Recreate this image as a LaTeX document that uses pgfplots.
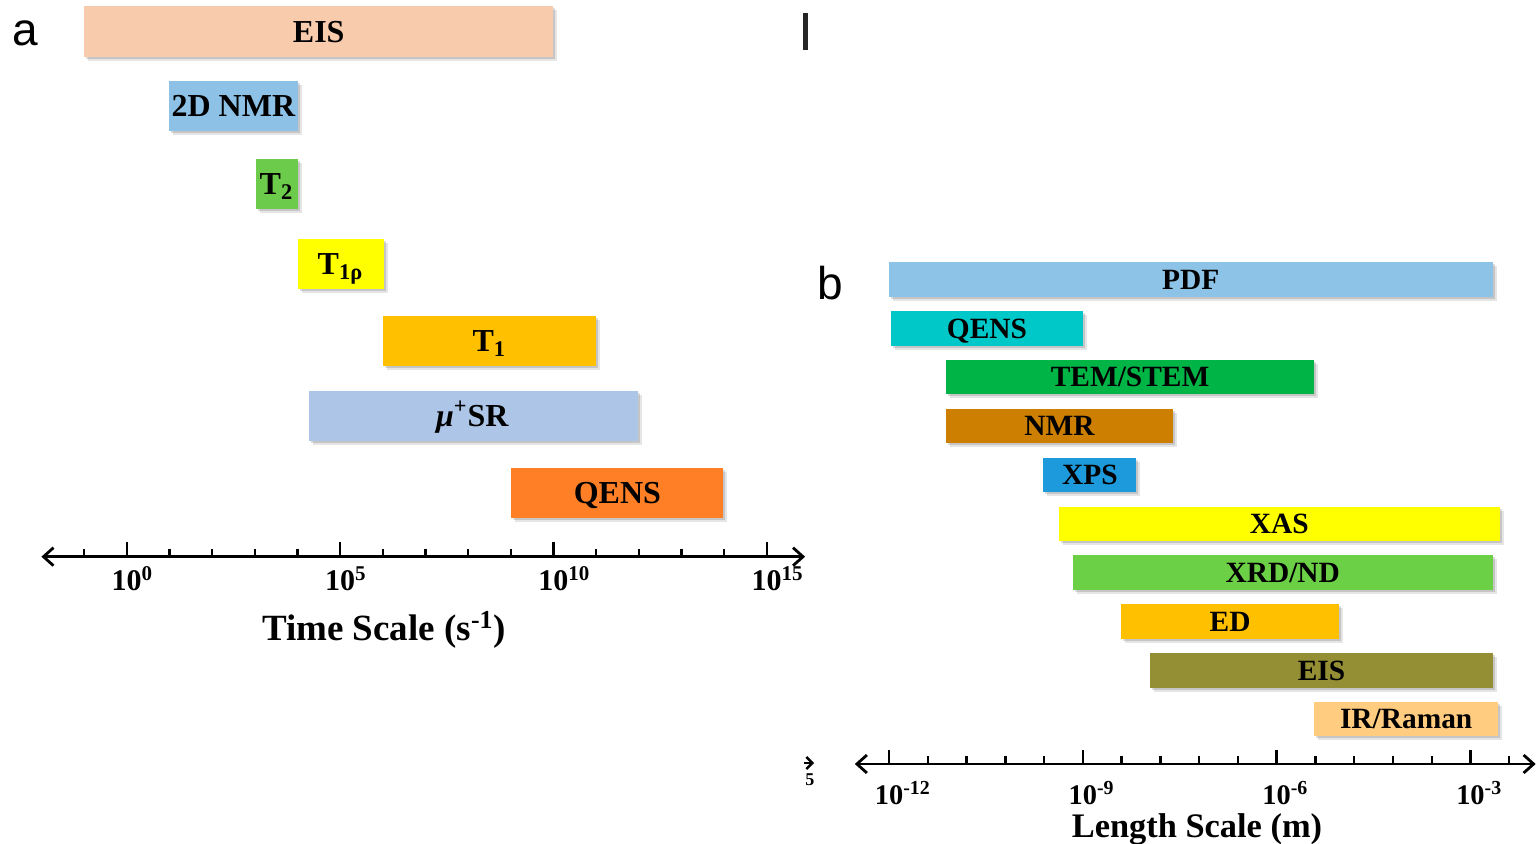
\documentclass[border=0pt]{standalone}
\usepackage{fontspec}
\setmainfont{Liberation Serif}
\newfontfamily\sansf{Liberation Sans}
\usepackage{pgfplots}
\pgfplotsset{compat=1.18}
\usetikzlibrary{arrows.meta}

\definecolor{cEISa}{HTML}{F8CBAD}
\definecolor{cNMRtwo}{HTML}{8EC1E6}
\definecolor{cTtwo}{HTML}{6CCB4A}
\definecolor{cYel}{HTML}{FFFF00}
\definecolor{cGold}{HTML}{FFC000}
\definecolor{cMu}{HTML}{ADC6E8}
\definecolor{cQa}{HTML}{FF7F27}
\definecolor{cPDF}{HTML}{8DC3E6}
\definecolor{cQb}{HTML}{00C8C8}
\definecolor{cTEM}{HTML}{00B545}
\definecolor{cNMRb}{HTML}{CC7F00}
\definecolor{cXPS}{HTML}{1C9ADB}
\definecolor{cXRD}{HTML}{6CD046}
\definecolor{cEISb}{HTML}{948F35}
\definecolor{cIR}{HTML}{FFCC80}

% #1 x1, #2 x2, #3 top (px), #4 bottom (px), #5 colour
\newcommand\mybar[5]{%
  \addplot[draw=none, fill=black, fill opacity=0.10, xshift=2pt, yshift=-2pt, forget plot]
    coordinates {(#1,-#3) (#2,-#3) (#2,-#4) (#1,-#4)} -- cycle;
  \addplot[draw=none, fill=black, fill opacity=0.14, xshift=1pt, yshift=-1pt, forget plot]
    coordinates {(#1,-#3) (#2,-#3) (#2,-#4) (#1,-#4)} -- cycle;
  \addplot[draw=none, fill=#5, forget plot]
    coordinates {(#1,-#3) (#2,-#3) (#2,-#4) (#1,-#4)} -- cycle;
}
\newcommand\tl[1]{10\rlap{\textsuperscript{#1}}}

\pgfplotsset{
  myaxis/.style={
    scale only axis, clip=false,
    axis x line=bottom, axis y line=none, ytick=\empty,
    x axis line style={black, line width=1.4pt,
      {Straight Barb[length=5pt,width=9pt]}-{Straight Barb[length=5pt,width=9pt]}},
    tick align=inside, major tick length=7.2pt,
    x tick style={black, line width=1.2pt},
    extra x tick style={major tick length=3.8pt, x tick style={black, line width=1.2pt}},
  }
}

\begin{document}
\begin{tikzpicture}[x=1pt,y=1pt]
\useasboundingbox (0,0) rectangle (768,422);

% ---------------- panel a ----------------
\begin{axis}[myaxis,
  at={(20.7pt,143.65pt)}, anchor=south west,
  width=381.85pt, height=278.35pt,
  xmin=-2, xmax=15.9, ymin=-556.7, ymax=0,
  xtick={0,5,10,15},
  xticklabels={\tl{0},\tl{5},\tl{10},\tl{15}},
  extra x ticks={-1,1,2,3,4,6,7,8,9,11,12,13,14},
  extra x tick labels={},
  xticklabel style={font=\fontsize{15}{18}\selectfont\bfseries, anchor=base, yshift=-17pt},
  xlabel={Time Scale (s\textsuperscript{-1})},
  xlabel style={at={(rel axis cs:0.4486,0)}, anchor=base, yshift=-42pt,
    font=\fontsize{18.5}{22}\selectfont\bfseries},
]
\mybar{-1}{10}{6.5}{56.7}{cEISa}
\mybar{1}{4.01}{81}{131}{cNMRtwo}
\mybar{3.02}{4.01}{158.7}{209}{cTtwo}
\mybar{4.01}{6.02}{239}{289.3}{cYel}
\mybar{6}{11}{316}{366}{cGold}
\mybar{4.27}{11.98}{390.7}{440.7}{cMu}
\mybar{9}{13.97}{467.7}{518.3}{cQa}
\begin{scope}[every node/.style={anchor=base, inner sep=0pt, font=\fontsize{16}{19}\selectfont\bfseries}]
\node at (axis cs:4.5,-42.2) {EIS};
\node at (axis cs:2.5,-116.6) {2D NMR};
\node at (axis cs:3.51,-194.5) {T\textsubscript{2}};
\node at (axis cs:5.01,-274.7) {T\textsubscript{1ρ}};
\node at (axis cs:8.5,-351.6) {T\textsubscript{1}};
\node at (axis cs:8.1,-426.3) {{\itshape μ}\textsuperscript{+}SR};
\node at (axis cs:11.5,-503.6) {QENS};
\end{scope}
\end{axis}

% ---------------- panel b ----------------
\begin{axis}[myaxis,
  at={(427.4pt,40pt)}, anchor=south west,
  width=340.45pt, height=257pt,
  xmin=-12.53, xmax=-1.99, ymin=-764, ymax=-250,
  xtick={-12,-9,-6,-3},
  xticklabels={\tl{-12},\tl{-9},\tl{-6},\tl{-3}},
  extra x ticks={-11.4,-10.8,-10.2,-9.6,-8.4,-7.8,-7.2,-6.6,-5.4,-4.8,-4.2,-3.6,-2.4},
  extra x tick labels={},
  xticklabel style={font=\fontsize{14.2}{17}\selectfont\bfseries, anchor=base, yshift=-20.5pt},
  xlabel={Length Scale (m)},
  xlabel style={at={(rel axis cs:0.5026,0)}, anchor=base, yshift=-37pt,
    font=\fontsize{17.2}{20}\selectfont\bfseries},
]
\mybar{-12}{-2.65}{262.3}{296.8}{cPDF}
\mybar{-11.97}{-9}{311.15}{345.65}{cQb}
\mybar{-11.12}{-5.42}{360.0}{394.5}{cTEM}
\mybar{-11.12}{-7.60}{408.85}{443.35}{cNMRb}
\mybar{-9.61}{-8.17}{457.7}{492.2}{cXPS}
\mybar{-9.37}{-2.55}{506.55}{541.05}{cYel}
\mybar{-9.16}{-2.65}{555.4}{589.9}{cXRD}
\mybar{-8.41}{-5.03}{604.25}{638.75}{cGold}
\mybar{-7.96}{-2.65}{653.1}{687.6}{cEISb}
\mybar{-5.42}{-2.57}{701.95}{736.45}{cIR}
\begin{scope}[every node/.style={anchor=base, inner sep=0pt, font=\fontsize{14.7}{17}\selectfont\bfseries}]
\node at (axis cs:-7.33,-289.25) {PDF};
\node at (axis cs:-10.485,-338.1) {QENS};
\node at (axis cs:-8.27,-386.95) {TEM/STEM};
\node at (axis cs:-9.36,-435.8) {NMR};
\node at (axis cs:-8.89,-484.65) {XPS};
\node at (axis cs:-5.96,-533.5) {XAS};
\node at (axis cs:-5.905,-582.35) {XRD/ND};
\node at (axis cs:-6.72,-631.2) {ED};
\node at (axis cs:-5.305,-680.05) {EIS};
\node at (axis cs:-3.995,-728.9) {IR/Raman};
\end{scope}
\end{axis}

% panel letters and cropping remnants
\node[anchor=base west, inner sep=0pt, font=\sansf\fontsize{23}{26}\selectfont] at (6,399) {a};
\node[anchor=base west, inner sep=0pt, font=\sansf\fontsize{23}{26}\selectfont] at (408.3,272) {b};
\fill[black!85] (401.6,397.2) rectangle (403.9,415.5);
\draw[black, line width=1.2pt, -{Straight Barb[length=3pt,width=6pt]}] (402,40.5) -- (407,40.5);
\node[anchor=base west, inner sep=0pt, font=\fontsize{9}{10}\selectfont\bfseries] at (402.5,29) {5};
\end{tikzpicture}
\end{document}
